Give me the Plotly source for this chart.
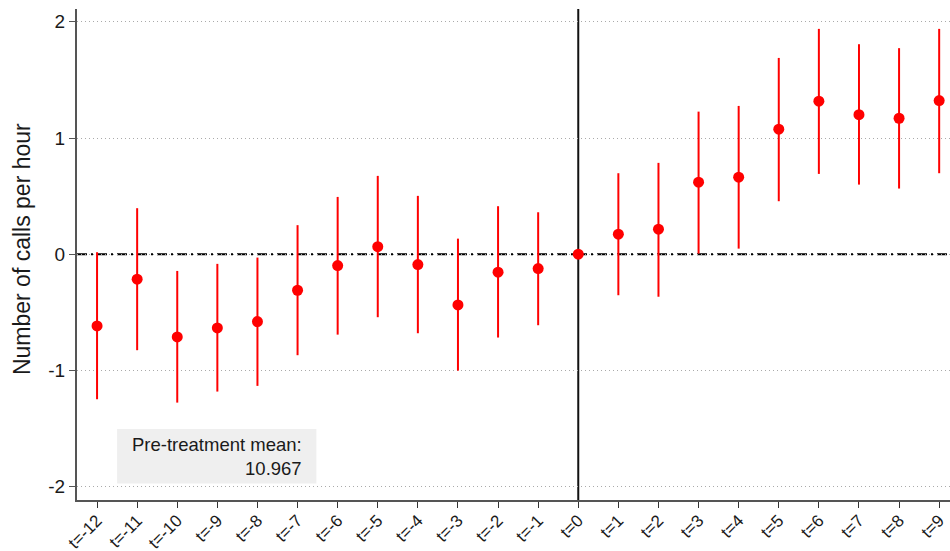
import plotly.graph_objects as go

periods = list(range(-12, 10))
tick_labels = [f"t={p}" for p in periods]
estimates = [-0.617, -0.215, -0.712, -0.634, -0.580, -0.310, -0.098, 0.065, -0.089, -0.436, -0.155, -0.124,
             0.0, 0.172, 0.215, 0.620, 0.663, 1.076, 1.317, 1.201, 1.170, 1.322]
ci_upper = [0.017, 0.396, -0.144, -0.083, -0.029, 0.250, 0.493, 0.674, 0.502, 0.134, 0.413, 0.361,
            0.0, 0.697, 0.786, 1.227, 1.276, 1.689, 1.939, 1.807, 1.773, 1.939]
ci_lower = [-1.248, -0.826, -1.277, -1.182, -1.133, -0.869, -0.692, -0.542, -0.680, -1.002, -0.717, -0.611,
            0.0, -0.353, -0.366, 0.005, 0.048, 0.456, 0.691, 0.599, 0.565, 0.697]

err_plus = [u - e for u, e in zip(ci_upper, estimates)]
err_minus = [e - l for e, l in zip(estimates, ci_lower)]

FONT = "Liberation Sans, Arial, sans-serif"

fig = go.Figure()
fig.add_trace(go.Scatter(
    x=periods, y=estimates, mode="markers", cliponaxis=False,
    marker=dict(color="#ff0000", size=11),
    error_y=dict(type="data", symmetric=False, array=err_plus, arrayminus=err_minus,
                 color="#ff0000", thickness=2, width=0),
    showlegend=False,
))

fig.update_layout(
    width=950, height=551,
    margin=dict(l=77, r=0, t=9, b=51),
    paper_bgcolor="white", plot_bgcolor="white",
    font=dict(family=FONT, color="#1a1a1a"),
    xaxis=dict(
        range=[-12.5, 9.27], tickmode="array", tickvals=periods, ticktext=tick_labels,
        tickangle=-45, tickfont=dict(size=17), ticks="outside", ticklen=6, tickcolor="#333",
        ticklabelstandoff=-4,
        showline=True, linecolor="#555", linewidth=2, showgrid=False, zeroline=False,
        automargin=False,
    ),
    yaxis=dict(
        range=[-2.115, 2.11], tickvals=[-2, -1, 0, 1, 2], ticktext=["-2", "-1", "0", "1", "2"],
        tickfont=dict(size=19), ticks="outside", ticklen=6, tickcolor="#555",
        showline=True, linecolor="#555", linewidth=2,
        showgrid=True, gridcolor="#aaaaaa", griddash="1px,3px", gridwidth=1, zeroline=False,
        automargin=False,
    ),
)

fig.add_annotation(xref="paper", yref="paper", x=-0.063, y=0.511, xanchor="center", yanchor="middle",
                   textangle=-90, showarrow=False, text="Number of calls per hour",
                   font=dict(size=23, color="#1a1a1a"))

fig.add_shape(type="line", xref="paper", yref="y", x0=0, x1=1, y0=0, y1=0,
              line=dict(color="black", width=2, dash="10px,4px,2px,4px"), layer="below")
fig.add_shape(type="line", xref="x", yref="paper", x0=0, x1=0, y0=0, y1=1,
              line=dict(color="#111", width=2), layer="below")

fig.add_shape(type="rect", xref="x", yref="y", x0=-11.5, x1=-6.53, y0=-1.974, y1=-1.503,
              fillcolor="#efefef", line=dict(width=0), layer="below")
fig.add_annotation(x=-6.83, y=-1.74, xref="x", yref="y", xanchor="right", yanchor="middle",
                   align="right", showarrow=False,
                   text="Pre-treatment mean:<br>10.967", font=dict(size=18.5, color="#1a1a1a"))

fig.write_html("out.html", config={"displayModeBar": False},
               post_script="document.body.style.margin='0';document.body.style.overflow='hidden';")
